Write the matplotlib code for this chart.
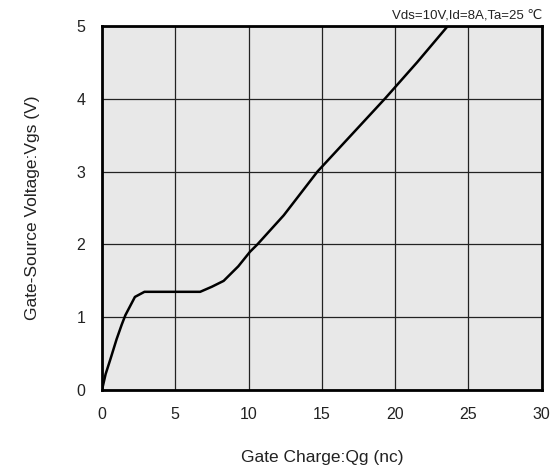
import matplotlib
matplotlib.use("Agg")
import matplotlib.pyplot as plt

plt.rcParams['font.family'] = ['Liberation Sans', 'DejaVu Sans']

# Gate charge curve
qg = [0, 0.25, 0.6, 1.0, 1.35, 1.6, 2.25, 2.9, 6.7, 7.5, 8.3, 9.3, 10.1, 10.6,
      12.4, 14.7, 19.3, 21.5, 23.6]
vgs = [0, 0.22, 0.44, 0.7, 0.9, 1.03, 1.28, 1.35, 1.35, 1.42, 1.5, 1.7, 1.9, 2.0,
       2.4, 3.0, 4.0, 4.5, 5.0]

x_ticks = [0, 5, 10, 15, 20, 25, 30]
y_ticks = [0, 1, 2, 3, 4, 5]

fig = plt.figure(figsize=(5.54, 4.69), dpi=100)
ax = fig.add_axes([0.184, 0.168, 0.794, 0.777])
ax.set_facecolor('#e8e8e8')

ax.plot(qg, vgs, color='black', lw=1.8, zorder=3)

ax.set_xlim(0, 30)
ax.set_ylim(0, 5)
ax.set_xticks(x_ticks)
ax.set_yticks(y_ticks)
ax.grid(True, color='#222222', lw=0.9)
ax.tick_params(length=0, labelsize=11.5, pad=12, labelcolor='#222222')
for s in ax.spines.values():
    s.set_linewidth(2)

ax.set_xlabel('Gate Charge:Qg (nc)', fontsize=12.5, labelpad=20, color='#222222')
ax.set_ylabel('Gate-Source Voltage:Vgs (V)', fontsize=12.5, labelpad=26, color='#222222')
ax.text(1.0, 1.012, 'Vds=10V,Id=8A,Ta=25 ℃', transform=ax.transAxes,
        ha='right', va='bottom', fontsize=9.5, color='#222222')

fig.savefig('out.png', dpi=100)
